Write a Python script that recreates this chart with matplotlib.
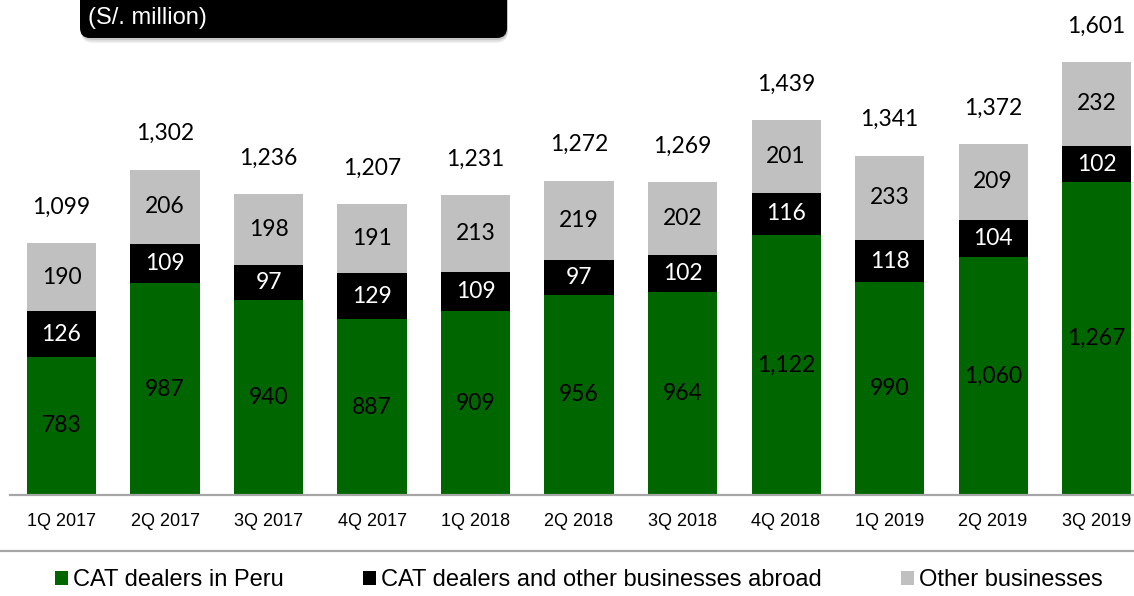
import matplotlib
matplotlib.use("Agg")
import matplotlib.pyplot as plt
from matplotlib.patches import FancyBboxPatch, Patch
from matplotlib.lines import Line2D

quarters = ["1Q 2017", "2Q 2017", "3Q 2017", "4Q 2017", "1Q 2018", "2Q 2018",
            "3Q 2018", "4Q 2018", "1Q 2019", "2Q 2019", "3Q 2019"]
cat_peru = [783, 987, 940, 887, 909, 956, 964, 1122, 990, 1060, 1267]
cat_abroad = [126, 109, 97, 129, 109, 97, 102, 116, 118, 104, 102]
other = [190, 206, 198, 191, 213, 219, 202, 201, 233, 209, 232]
totals = [1099, 1302, 1236, 1207, 1231, 1272, 1269, 1439, 1341, 1372, 1601]
series_names = ["CAT dealers in Peru", "CAT dealers and other businesses abroad", "Other businesses"]
unit_label = "(S/. million)"

GREEN = "#006600"
BLACK = "#000000"
GREY = "#C0C0C0"
LINE_GREY = "#A6A6A6"

W, H, DPI = 1134, 596, 100
fig = plt.figure(figsize=(W / DPI, H / DPI), dpi=DPI)

# axes in pixel geometry
ax_left, ax_right, ax_bottom_px, ax_top_px = 10, 1134, 495, 0
ax = fig.add_axes([ax_left / W, (H - ax_bottom_px) / H,
                   (ax_right - ax_left) / W, (ax_bottom_px - ax_top_px) / H])
ymin, ymax = 400, 1773
ax.set_ylim(ymin, ymax)
ax.set_xlim(-0.4976, 10.362)

x = list(range(len(quarters)))
bw = 0.667
bottom2 = [a + b for a, b in zip(cat_peru, cat_abroad)]
ax.bar(x, cat_peru, bw, color=GREEN, zorder=2)
ax.bar(x, cat_abroad, bw, bottom=cat_peru, color=BLACK, zorder=2)
ax.bar(x, other, bw, bottom=bottom2, color=GREY, zorder=2)

lab_font = dict(family=["Lato", "DejaVu Sans"], fontsize=16.5)
for i in x:
    g_lo = max(0, ymin)
    ax.text(i, (g_lo + cat_peru[i]) / 2, f"{cat_peru[i]:,}", ha="center", va="center",
            color="black", **lab_font)
    ax.text(i, cat_peru[i] + cat_abroad[i] / 2, f"{cat_abroad[i]:,}", ha="center",
            va="center", color="white", **lab_font)
    ax.text(i, bottom2[i] + other[i] / 2, f"{other[i]:,}", ha="center", va="center",
            color="black", **lab_font)
    ax.annotate(f"{totals[i]:,}", xy=(i, bottom2[i] + other[i]), xytext=(0, 36 * 72 / DPI),
                textcoords="offset points", ha="center", va="center", color="black",
                **lab_font)

for s in ["top", "right", "left"]:
    ax.spines[s].set_visible(False)
ax.spines["bottom"].set_color(LINE_GREY)
ax.spines["bottom"].set_linewidth(1.6)
ax.set_yticks([])
ax.set_xticks(x)
ax.set_xticklabels(quarters, family=["Liberation Sans", "DejaVu Sans"], fontsize=13)
ax.tick_params(axis="x", length=0, pad=13)

# separator line above legend
fig.add_artist(Line2D([0, 1], [(H - 551) / H] * 2, transform=fig.transFigure,
                      color=LINE_GREY, lw=1.6))

handles = [Patch(facecolor=c, edgecolor="none") for c in (GREEN, BLACK, GREY)]
fig.legend(handles, series_names, loc="center", bbox_to_anchor=(579 / W, (H - 580) / H),
           ncol=3, frameon=False, prop={"family": ["Liberation Sans", "DejaVu Sans"], "size": 17},
           handlelength=0.55, handleheight=0.55, handletextpad=0.2, columnspacing=3.36,
           borderpad=0, borderaxespad=0)

# title box (top-left, partially cut off)
tr = fig.dpi_scale_trans
for k, a in enumerate([0.10, 0.08, 0.06]):
    off = 0.02 + 0.015 * k
    sh = FancyBboxPatch((0.80 + 0.01, 5.58 - off), 4.27, 0.6,
                        boxstyle="round,pad=0,rounding_size=0.12", transform=tr,
                        facecolor="black", edgecolor="none", alpha=a, zorder=5)
    fig.add_artist(sh)
box = FancyBboxPatch((0.80, 5.58), 4.27, 0.6, boxstyle="round,pad=0,rounding_size=0.10",
                     transform=tr, facecolor="black", edgecolor="none", zorder=6)
fig.add_artist(box)
fig.text(88 / W, (H - 18) / H, unit_label, color="white", ha="left", va="center",
         family=["Liberation Sans", "DejaVu Sans"], fontsize=17, zorder=7)

fig.savefig("out.png", dpi=DPI)
